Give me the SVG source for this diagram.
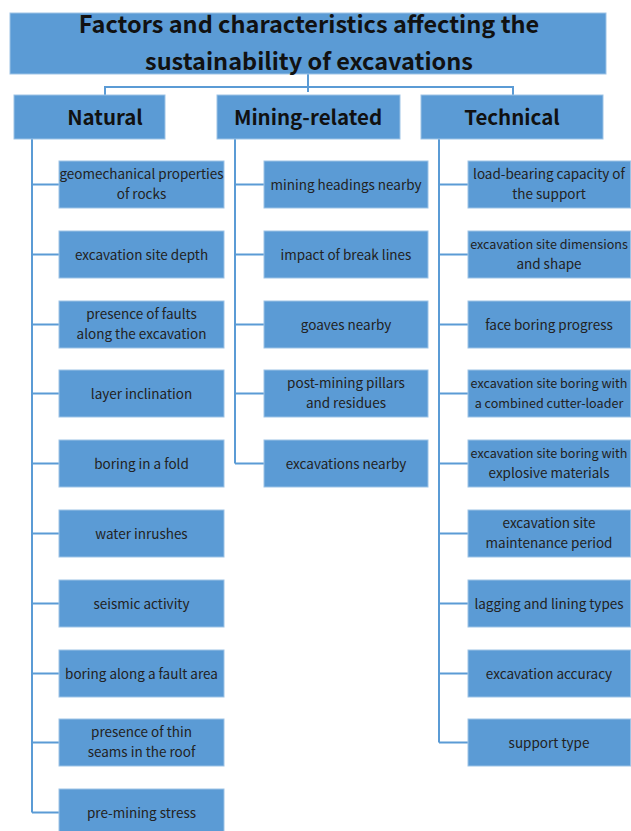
<svg xmlns="http://www.w3.org/2000/svg" width="631" height="831" viewBox="0 0 631 831">
  <style>
    .box { fill: #5B9BD5; stroke: #9DC3E6; stroke-width: 1; }
    .wire { fill: none; stroke: #5B9BD5; stroke-width: 2; }
    .title { font-family: "Noto Sans CJK KR", "Noto Sans", sans-serif; font-weight: bold; font-size: 23.5px; fill: #111; text-anchor: middle; }
    .head { font-family: "Noto Sans CJK KR", "Noto Sans", sans-serif; font-weight: bold; font-size: 20.5px; fill: #111; text-anchor: middle; }
    .item { font-family: "Noto Sans CJK KR", "Noto Sans", sans-serif; font-size: 13.5px; fill: #222; text-anchor: middle; }
    .item.long { font-size: 12.6px; }
  </style>

  <!-- connectors -->
  <g id="connectors">
    <path class="wire" d="M308 74 V92 M105 95 V87 H513 V95"/>
    <path class="wire" d="M32 139 V812.5 M32 184.5 H59 M32 254.5 H59 M32 324.5 H59 M32 393.5 H59 M32 463.5 H59 M32 533.5 H59 M32 603.5 H59 M32 673.5 H59 M32 742.5 H59 M32 812.5 H59"/>
    <path class="wire" d="M235 139 V463.5 M235 184.5 H264 M235 254.5 H264 M235 324.5 H264 M235 393.5 H264 M235 463.5 H264"/>
    <path class="wire" d="M439 139 V742.5 M439 184.5 H468 M439 254.5 H468 M439 324.5 H468 M439 393.5 H468 M439 463.5 H468 M439 533.5 H468 M439 603.5 H468 M439 673.5 H468 M439 742.5 H468"/>
  </g>

  <!-- root -->
  <g id="root">
    <rect class="box" x="10" y="13" width="596" height="61"/>
    <text class="title" x="309" y="33">Factors and characteristics affecting the</text>
    <text class="title" x="309" y="70">sustainability of excavations</text>
  </g>

  <!-- category headers -->
  <g id="natural">
    <rect class="box" x="14" y="95" width="151" height="44"/>
    <text class="head" x="105" y="125">Natural</text>
  </g>
  <g id="mining">
    <rect class="box" x="217" y="95" width="183" height="44"/>
    <text class="head" x="308" y="125">Mining-related</text>
  </g>
  <g id="technical">
    <rect class="box" x="421" y="95" width="182" height="44"/>
    <text class="head" x="512" y="125">Technical</text>
  </g>

  <!-- natural factors -->
  <g id="n1"><rect class="box" x="59" y="161" width="165" height="47"/><text class="item" x="141.5" y="179">geomechanical properties</text><text class="item" x="141.5" y="199">of rocks</text></g>
  <g id="n2"><rect class="box" x="59" y="231" width="165" height="47"/><text class="item" x="141.5" y="259.5">excavation site depth</text></g>
  <g id="n3"><rect class="box" x="59" y="301" width="165" height="47"/><text class="item" x="141.5" y="319">presence of faults</text><text class="item" x="141.5" y="339">along the excavation</text></g>
  <g id="n4"><rect class="box" x="59" y="370" width="165" height="47"/><text class="item" x="141.5" y="398.5">layer inclination</text></g>
  <g id="n5"><rect class="box" x="59" y="440" width="165" height="47"/><text class="item" x="141.5" y="468.5">boring in a fold</text></g>
  <g id="n6"><rect class="box" x="59" y="510" width="165" height="47"/><text class="item" x="141.5" y="538.5">water inrushes</text></g>
  <g id="n7"><rect class="box" x="59" y="580" width="165" height="47"/><text class="item" x="141.5" y="608.5">seismic activity</text></g>
  <g id="n8"><rect class="box" x="59" y="650" width="165" height="47"/><text class="item" x="141.5" y="678.5">boring along a fault area</text></g>
  <g id="n9"><rect class="box" x="59" y="719" width="165" height="47"/><text class="item" x="141.5" y="737">presence of thin</text><text class="item" x="141.5" y="757">seams in the roof</text></g>
  <g id="n10"><rect class="box" x="59" y="789" width="165" height="47"/><text class="item" x="141.5" y="817.5">pre-mining stress</text></g>

  <!-- mining-related factors -->
  <g id="m1"><rect class="box" x="264" y="161" width="164" height="47"/><text class="item" x="346" y="189.5">mining headings nearby</text></g>
  <g id="m2"><rect class="box" x="264" y="231" width="164" height="47"/><text class="item" x="346" y="259.5">impact of break lines</text></g>
  <g id="m3"><rect class="box" x="264" y="301" width="164" height="47"/><text class="item" x="346" y="329.5">goaves nearby</text></g>
  <g id="m4"><rect class="box" x="264" y="370" width="164" height="47"/><text class="item" x="346" y="388">post-mining pillars</text><text class="item" x="346" y="408">and residues</text></g>
  <g id="m5"><rect class="box" x="264" y="440" width="164" height="47"/><text class="item" x="346" y="468.5">excavations nearby</text></g>

  <!-- technical factors (boxes run to the right edge) -->
  <g id="t1"><rect class="box" x="468" y="161" width="162.5" height="47"/><text class="item" x="549" y="179">load-bearing capacity of</text><text class="item" x="549" y="199">the support</text></g>
  <g id="t2"><rect class="box" x="468" y="231" width="162.5" height="47"/><text class="item long" x="549" y="249">excavation site dimensions</text><text class="item" x="549" y="269">and shape</text></g>
  <g id="t3"><rect class="box" x="468" y="301" width="162.5" height="47"/><text class="item" x="549" y="329.5">face boring progress</text></g>
  <g id="t4"><rect class="box" x="468" y="370" width="162.5" height="47"/><text class="item long" x="549" y="388">excavation site boring with</text><text class="item long" x="549" y="408">a combined cutter-loader</text></g>
  <g id="t5"><rect class="box" x="468" y="440" width="162.5" height="47"/><text class="item long" x="549" y="458">excavation site boring with</text><text class="item" x="549" y="478">explosive materials</text></g>
  <g id="t6"><rect class="box" x="468" y="510" width="162.5" height="47"/><text class="item" x="549" y="528">excavation site</text><text class="item" x="549" y="548">maintenance period</text></g>
  <g id="t7"><rect class="box" x="468" y="580" width="162.5" height="47"/><text class="item" x="549" y="608.5">lagging and lining types</text></g>
  <g id="t8"><rect class="box" x="468" y="650" width="162.5" height="47"/><text class="item" x="549" y="678.5">excavation accuracy</text></g>
  <g id="t9"><rect class="box" x="468" y="719" width="162.5" height="47"/><text class="item" x="549" y="747.5">support type</text></g>
</svg>
